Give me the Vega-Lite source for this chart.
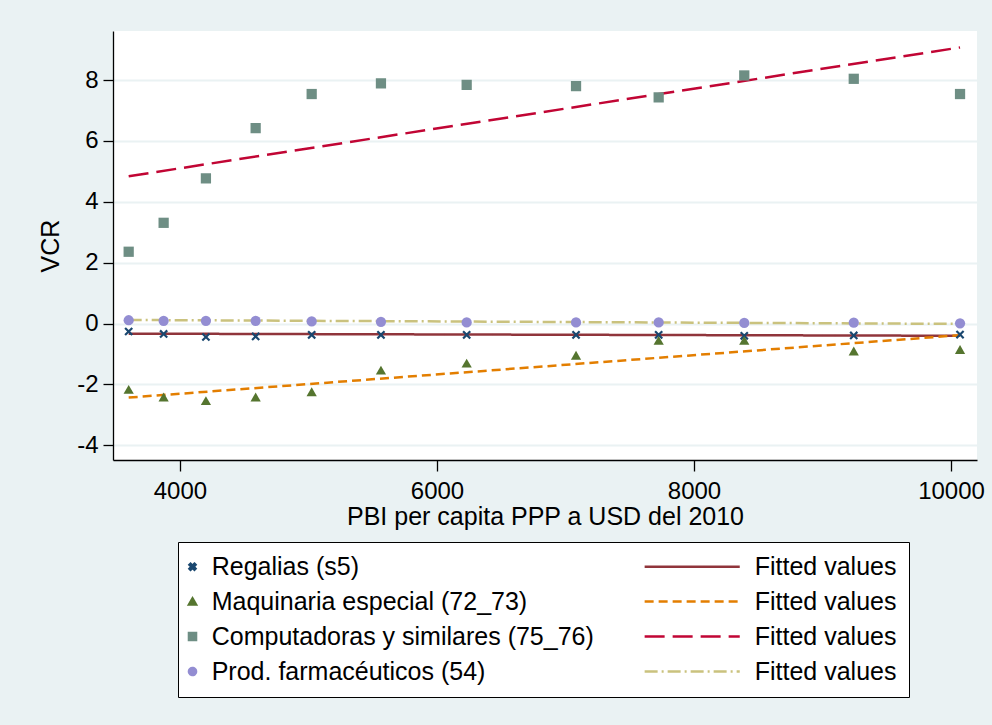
{
  "$schema": "https://vega.github.io/schema/vega-lite/v6.json",
  "width": 864,
  "height": 429,
  "autosize": {"type": "none"},
  "padding": {"left": 113, "top": 31, "right": 15, "bottom": 265},
  "background": "#EAF2F3",
  "config": {
    "font": "Liberation Sans",
    "view": {"fill": "white", "stroke": null},
    "axis": {
      "domainColor": "#000000",
      "domainWidth": 1.3,
      "tickColor": "#000000",
      "tickWidth": 1.3,
      "labelColor": "#000000",
      "titleColor": "#000000",
      "labelFont": "Liberation Sans",
      "titleFont": "Liberation Sans",
      "labelFontSize": 24,
      "titleFontSize": 25,
      "titleFontWeight": "normal",
      "labelFlush": false,
      "labelOverlap": false
    }
  },
  "datasets": {
    "points": [
      {"x": 3601, "y": -0.26, "series": "Regalias (s5)"},
      {"x": 3873, "y": -0.34, "series": "Regalias (s5)"},
      {"x": 4202, "y": -0.44, "series": "Regalias (s5)"},
      {"x": 4589, "y": -0.42, "series": "Regalias (s5)"},
      {"x": 5025, "y": -0.37, "series": "Regalias (s5)"},
      {"x": 5564, "y": -0.37, "series": "Regalias (s5)"},
      {"x": 6231, "y": -0.37, "series": "Regalias (s5)"},
      {"x": 7082, "y": -0.37, "series": "Regalias (s5)"},
      {"x": 7725, "y": -0.37, "series": "Regalias (s5)"},
      {"x": 8391, "y": -0.40, "series": "Regalias (s5)"},
      {"x": 9243, "y": -0.39, "series": "Regalias (s5)"},
      {"x": 10070, "y": -0.36, "series": "Regalias (s5)"},
      {"x": 3601, "y": -2.16, "series": "Maquinaria especial (72_73)"},
      {"x": 3873, "y": -2.41, "series": "Maquinaria especial (72_73)"},
      {"x": 4202, "y": -2.53, "series": "Maquinaria especial (72_73)"},
      {"x": 4589, "y": -2.41, "series": "Maquinaria especial (72_73)"},
      {"x": 5025, "y": -2.24, "series": "Maquinaria especial (72_73)"},
      {"x": 5564, "y": -1.53, "series": "Maquinaria especial (72_73)"},
      {"x": 6231, "y": -1.30, "series": "Maquinaria especial (72_73)"},
      {"x": 7082, "y": -1.04, "series": "Maquinaria especial (72_73)"},
      {"x": 7725, "y": -0.55, "series": "Maquinaria especial (72_73)"},
      {"x": 8391, "y": -0.55, "series": "Maquinaria especial (72_73)"},
      {"x": 9243, "y": -0.90, "series": "Maquinaria especial (72_73)"},
      {"x": 10070, "y": -0.85, "series": "Maquinaria especial (72_73)"},
      {"x": 3601, "y": 2.36, "series": "Computadoras y similares (75_76)"},
      {"x": 3873, "y": 3.31, "series": "Computadoras y similares (75_76)"},
      {"x": 4202, "y": 4.77, "series": "Computadoras y similares (75_76)"},
      {"x": 4589, "y": 6.42, "series": "Computadoras y similares (75_76)"},
      {"x": 5025, "y": 7.54, "series": "Computadoras y similares (75_76)"},
      {"x": 5564, "y": 7.89, "series": "Computadoras y similares (75_76)"},
      {"x": 6231, "y": 7.84, "series": "Computadoras y similares (75_76)"},
      {"x": 7082, "y": 7.80, "series": "Computadoras y similares (75_76)"},
      {"x": 7725, "y": 7.43, "series": "Computadoras y similares (75_76)"},
      {"x": 8391, "y": 8.15, "series": "Computadoras y similares (75_76)"},
      {"x": 9243, "y": 8.04, "series": "Computadoras y similares (75_76)"},
      {"x": 10070, "y": 7.54, "series": "Computadoras y similares (75_76)"},
      {"x": 3601, "y": 0.11, "series": "Prod. farmacéuticos (54)"},
      {"x": 3873, "y": 0.09, "series": "Prod. farmacéuticos (54)"},
      {"x": 4202, "y": 0.09, "series": "Prod. farmacéuticos (54)"},
      {"x": 4589, "y": 0.09, "series": "Prod. farmacéuticos (54)"},
      {"x": 5025, "y": 0.07, "series": "Prod. farmacéuticos (54)"},
      {"x": 5564, "y": 0.06, "series": "Prod. farmacéuticos (54)"},
      {"x": 6231, "y": 0.04, "series": "Prod. farmacéuticos (54)"},
      {"x": 7082, "y": 0.04, "series": "Prod. farmacéuticos (54)"},
      {"x": 7725, "y": 0.04, "series": "Prod. farmacéuticos (54)"},
      {"x": 8391, "y": 0.02, "series": "Prod. farmacéuticos (54)"},
      {"x": 9243, "y": 0.03, "series": "Prod. farmacéuticos (54)"},
      {"x": 10070, "y": 0.01, "series": "Prod. farmacéuticos (54)"}
    ],
    "fits": [
      {"x": 3601, "y": -0.33, "series": "Fitted values 1"},
      {"x": 10070, "y": -0.40, "series": "Fitted values 1"},
      {"x": 3601, "y": -2.43, "series": "Fitted values 2"},
      {"x": 10070, "y": -0.38, "series": "Fitted values 2"},
      {"x": 3601, "y": 4.84, "series": "Fitted values 3"},
      {"x": 10070, "y": 9.07, "series": "Fitted values 3"},
      {"x": 3601, "y": 0.12, "series": "Fitted values 4"},
      {"x": 10070, "y": -0.01, "series": "Fitted values 4"}
    ]
  },
  "encoding": {
    "x": {
      "field": "x", "type": "quantitative",
      "scale": {"domain": [3479, 10202], "nice": false, "zero": false},
      "axis": {
        "title": "PBI per capita PPP a USD del 2010",
        "values": [4000, 6000, 8000, 10000],
        "format": "d",
        "grid": false,
        "tickSize": 11,
        "labelPadding": 8,
        "titlePadding": 1
      }
    },
    "y": {
      "field": "y", "type": "quantitative",
      "scale": {"domain": [-4.48, 9.61], "nice": false, "zero": false},
      "axis": {
        "title": "VCR",
        "values": [-4, -2, 0, 2, 4, 6, 8],
        "labelExpr": "toString(datum.value)",
        "grid": true,
        "gridColor": "#EAF2F3",
        "gridWidth": 2,
        "tickSize": 10,
        "labelPadding": 5,
        "labelAngle": 0,
        "titlePadding": 13
      }
    }
  },
  "layer": [
    {
      "data": {"name": "fits"},
      "mark": {"type": "line", "strokeWidth": 2.5},
      "encoding": {
        "color": {
          "field": "series", "type": "nominal",
          "scale": {
            "domain": ["Regalias (s5)", "Maquinaria especial (72_73)", "Computadoras y similares (75_76)", "Prod. farmacéuticos (54)", "Fitted values 1", "Fitted values 2", "Fitted values 3", "Fitted values 4"],
            "range": ["#1a476f", "#55752f", "#6e8e84", "#938dd2", "#90353b", "#e37e00", "#c10534", "#cac27e"]
          }
        },
        "strokeDash": {
          "field": "series", "type": "nominal",
          "scale": {
            "domain": ["Regalias (s5)", "Maquinaria especial (72_73)", "Computadoras y similares (75_76)", "Prod. farmacéuticos (54)", "Fitted values 1", "Fitted values 2", "Fitted values 3", "Fitted values 4"],
            "range": [[1, 0], [1, 0], [1, 0], [1, 0], [1, 0], [9, 5], [20, 8], [13, 4, 2, 4]]
          }
        }
      }
    },
    {
      "data": {"name": "points"},
      "mark": {"type": "point", "filled": true, "opacity": 1, "size": 105},
      "encoding": {
        "color": {
          "field": "series", "type": "nominal",
          "legend": {
            "orient": "none",
            "legendX": 65,
            "legendY": 511,
            "title": null,
            "columns": 2,
            "columnPadding": 45,
            "rowPadding": 9,
            "padding": 12,
            "strokeColor": "#000000",
            "fillColor": "#ffffff",
            "labelFontSize": 25,
            "labelFont": "Liberation Sans",
            "labelColor": "#000000",
            "labelLimit": 1000,
            "labelOffset": 6.7,
            "symbolOffset": -10,
            "symbolSize": 50,
            "symbolStrokeWidth": 2.5,
            "symbolOpacity": 1,
            "labelExpr": "substring(datum.label, 0, 6) == 'Fitted' ? 'Fitted values' : datum.label"
          }
        },
        "shape": {
          "field": "series", "type": "nominal",
          "scale": {
            "domain": ["Regalias (s5)", "Maquinaria especial (72_73)", "Computadoras y similares (75_76)", "Prod. farmacéuticos (54)", "Fitted values 1", "Fitted values 2", "Fitted values 3", "Fitted values 4"],
            "range": [
              "M-0.85,-0.55L-0.55,-0.85L0,-0.3L0.55,-0.85L0.85,-0.55L0.3,0L0.85,0.55L0.55,0.85L0,0.3L-0.55,0.85L-0.85,0.55L-0.3,0Z",
              "triangle-up",
              "square",
              "circle",
              "M-25.7,0L1.2,0",
              "M-25.7,0L1.2,0",
              "M-25.7,0L1.2,0",
              "M-25.7,0L1.2,0"
            ]
          }
        }
      }
    }
  ]
}
